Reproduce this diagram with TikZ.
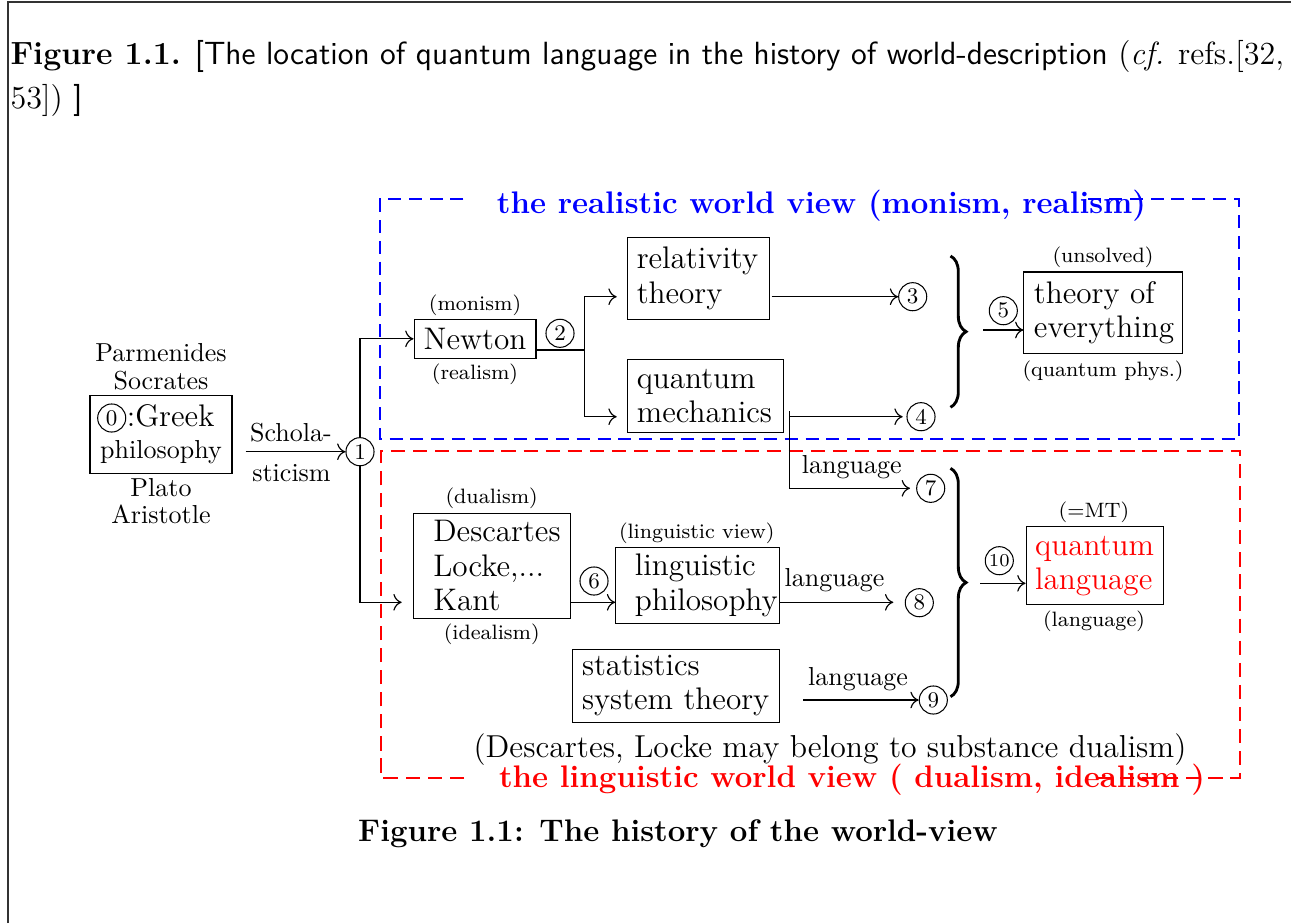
\documentclass[tikz,border=0pt]{standalone}
\usepackage{fontspec}
\usetikzlibrary{decorations.pathreplacing,arrows.meta}
\newcommand\boxfont{\fontsize{12}{13.2}\selectfont}
\newcommand\headfont{\fontsize{12.35}{15}\selectfont}
\newcommand\numfont{\fontsize{8.6}{9}\selectfont}
\begin{document}
\begin{tikzpicture}[x=0.3846pt,y=-0.3846pt,
  every node/.style={inner sep=0pt},
  cnum/.style={circle,draw,inner sep=0.2pt,minimum size=10.8pt,font=\numfont},
  bx/.style={draw,align=left,font=\boxfont,inner ysep=0pt},
  lab/.style={font=\footnotesize,anchor=base},
  txt/.style={font=\normalsize,anchor=base},
  bluedash/.style={draw=blue,line width=0.7pt,dash pattern=on 5pt off 3pt},
  reddash/.style={draw=red,line width=0.8pt,dash pattern=on 5.5pt off 3pt},
  brc/.style={decorate,decoration={brace,amplitude=6pt},line width=1.1pt},
  conn/.style={-{Computer Modern Rightarrow[length=3.2pt,width=6.4pt]},line width=0.45pt}]
\useasboundingbox (0,0) rectangle (1291,923);
% frame
\draw[black!80,line width=0.6pt] (8,923) -- (8,2) -- (1291,2);
% header
\node[anchor=base west,font=\headfont] (h1) at (10,64) {\textbf{Figure 1.1.} \textsf{[The location of quantum language in the history of world-description} (\textit{cf.} refs.[32,};
\node[anchor=base west,font=\headfont] (h2) at (10,108) {53]) \textsf{]}};
% world-view frames
\draw[bluedash] (463.3,199.3) -- (380,199.3) -- (380,439.3) -- (1239,439.3) -- (1239,199.3) -- (1088,199.3);
\draw[reddash] (464,778) -- (381,778) -- (381,451) -- (1240,451) -- (1240,778) -- (1096,778);
\node[anchor=base,font=\large\bfseries,text=blue] (tblue) at (821.5,213.3) {the realistic world view (monism, realism)};
\node[anchor=base,font=\large\bfseries,text=red] (tred) at (852,787) {the linguistic world view ( dualism, idealism )};
% Greek philosophy
\node[txt] (parm) at (161,361.7) {Parmenides};
\node[txt] (socr) at (161,389) {Socrates};
\node[draw,minimum width=54.6pt,minimum height=29.8pt] (greek) at (161,434.5) {};
\node[cnum] (c0) at (111.7,418) {0};
\node[anchor=base west,font=\large] (gk) at (c0.east |- 0,426.7) {:Greek};
\node[txt] (gp) at (161,458) {philosophy};
\node[txt] (plato) at (161,496.7) {Plato};
\node[txt] (arist) at (161,523) {Aristotle};
\node[txt] (schola) at (291,441.7) {Schola-};
\node[txt] (stic) at (291.5,481.7) {sticism};
\node[cnum] (c1) at (360,451.7) {1};
\coordinate (s0) at (245.7,451.7);
\draw[conn] (s0) -- (c1);
% Newton
\node[bx,align=center,font=\large,minimum width=46.9pt,minimum height=15pt] (newton) at (475,338.8) {Newton};
\node[lab] (monism) at (475,310) {(monism)};
\node[lab] (realism) at (475,379) {(realism)};
\draw[conn] (c1) |- (newton);
\coordinate (dIn) at (401.7,602.3);
\draw[conn] (c1) |- (dIn);
\node[cnum] (c2) at (560,333.3) {2};
\coordinate (j2) at (584.3,350);
\draw[line width=0.45pt] (newton.east |- j2) -- (j2);
\coordinate (jt) at (584.3,296.7);
\coordinate (jb) at (584.3,416.7);
\draw[line width=0.45pt] (jt) -- (jb);
\coordinate (rt) at (616.7,296.7);
\coordinate (rb) at (616.7,416.7);
\draw[conn] (jt) -- (rt);
\draw[conn] (jb) -- (rb);
% relativity, quantum mechanics
\node[bx,inner xsep=3.5pt,text width=47.5pt,minimum height=31.4pt] (rel) at (698.5,278.5) {relativity\\theory};
\node[bx,inner xsep=3.5pt,text width=52.85pt,minimum height=28.1pt] (qm) at (705.5,395.8) {quantum\\mechanics};
\node[cnum] (c3) at (912.7,296.7) {3};
\coordinate (r3s) at (771.7,296.7);
\draw[conn] (r3s) -- (c3);
\node[cnum] (c4) at (921,416.7) {4};
\coordinate (q4s) at (789,416.7);
\coordinate (q4e) at (902.7,416.7);
\draw[conn] (q4s) -- (q4e);
\coordinate (qv) at (789.3,411);
\coordinate (q7) at (789.3,488.3);
\draw[line width=0.45pt] (qv) -- (q7);
\node[cnum] (c7) at (930.7,488.3) {7};
\coordinate (q7e) at (910,488.3);
\draw[conn] (q7) -- (q7e);
\node[txt] (lang7) at (851.7,473.3) {language};
% brace 1 and theory of everything
\coordinate (b1a) at (950.5,256);
\coordinate (b1b) at (950.5,407.3);
\draw[brc] (b1a) -- (b1b);
\node[cnum] (c5) at (1003.3,310.7) {5};
\node[bx,inner xsep=3.85pt,text width=53.1pt,minimum height=31.3pt] (toe) at (1103,312.7) {theory of\\everything};
\coordinate (a5s) at (983.3,330);
\draw[conn] (a5s) -- (toe.west |- a5s);
\node[lab] (unsolved) at (1103,262.7) {(unsolved)};
\node[lab] (qphys) at (1103,376) {(quantum phys.)};
% Descartes
\node[bx,inner xsep=7.7pt,text width=45.1pt,minimum height=40.4pt] (desc) at (492,565.8) {Descartes\\Locke,...\\Kant};
\node[lab] (dualism) at (491.7,503.3) {(dualism)};
\node[lab] (idealism) at (491.7,639.3) {(idealism)};
\node[bx,inner xsep=7.4pt,text width=48.1pt,minimum height=29.2pt] (ling) at (697.5,585.3) {linguistic\\philosophy};
\node[lab] (lview) at (696.7,538.3) {(linguistic view)};
\node[cnum] (c6) at (594,581) {6};
\coordinate (d6s) at (570.7,602.3);
\draw[conn] (d6s) -- (ling.west |- d6s);
\node[cnum] (c8) at (919.3,602.7) {8};
\coordinate (l8s) at (779.3,602.3);
\coordinate (l8e) at (893.3,602.3);
\draw[conn] (l8s) -- (l8e);
\node[txt] (lang8) at (834.5,586.7) {language};
\node[bx,inner xsep=3.6pt,text width=72.5pt,minimum height=28.3pt] (stat) at (676.3,685.8) {statistics\\system theory};
\node[cnum] (c9) at (933.3,700) {9};
\coordinate (l9s) at (803.3,700);
\draw[conn] (l9s) -- (c9);
\node[txt] (lang9) at (858,685) {language};
% brace 2 and quantum language
\coordinate (b2a) at (950.5,468.3);
\coordinate (b2b) at (950.5,696.7);
\draw[brc] (b2a) -- (b2b);
\node[cnum,font=\scriptsize] (c10) at (999.3,560.7) {10};
\node[bx,inner xsep=3.5pt,text width=45.8pt,minimum height=30.1pt,text=red] (ql) at (1094.7,565.8) {quantum\\language};
\coordinate (a10s) at (980,583.3);
\draw[conn] (a10s) -- (ql.west |- a10s);
\node[lab] (mt) at (1094,517.3) {(=MT)};
\node[lab] (qllang) at (1094,626.7) {(language)};
% note and caption
\node[anchor=base,font=\fontsize{12.2}{14}\selectfont] (note) at (830,757) {(Descartes, Locke may belong to substance dualism)};
\node[anchor=base,font=\large\bfseries] (cap) at (678,841) {Figure 1.1: The history of the world-view};
\end{tikzpicture}
\end{document}
